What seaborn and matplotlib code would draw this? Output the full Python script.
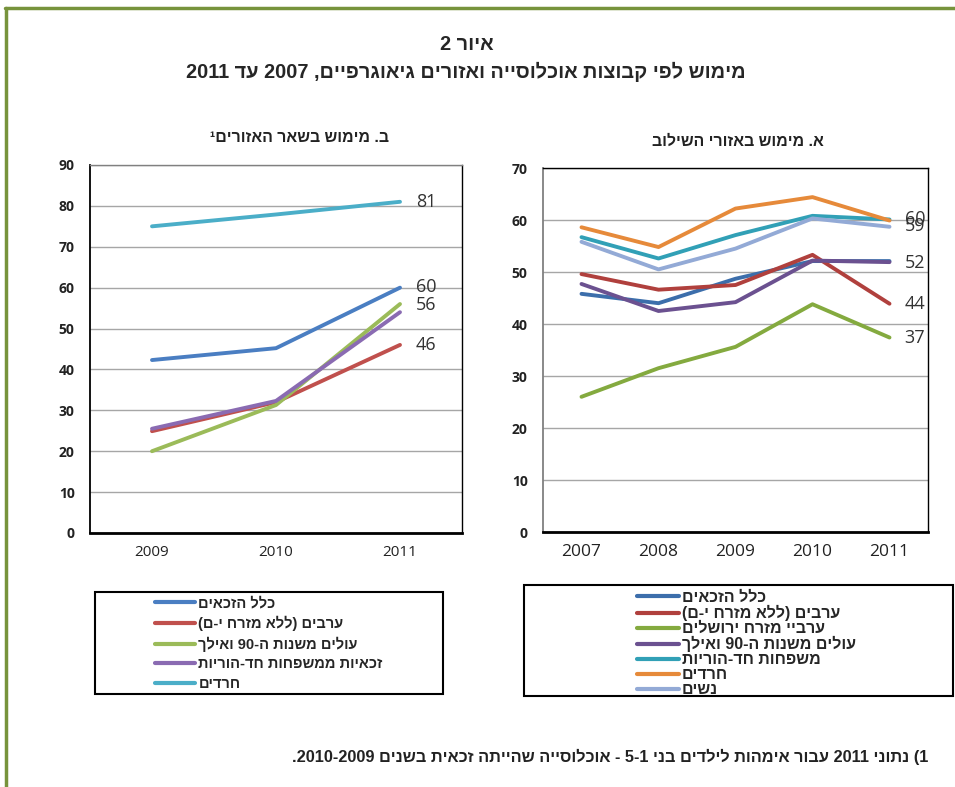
import re
import pandas as pd
import matplotlib
matplotlib.use("Agg")
import matplotlib.pyplot as plt
from matplotlib.lines import Line2D
from matplotlib.patches import Rectangle
from matplotlib.transforms import Bbox, TransformedBbox
import seaborn as sns

# ---- data: panel B (other areas), 2009-2011 ----
years_b = ["2009", "2010", "2011"]
groups_b = ["כלל הזכאים", "ערבים (ללא מזרח י-ם)", "עולים משנות ה-90 ואילך",
            "זכאיות ממשפחות חד-הוריות", "חרדים"]
all_b = [42.3, 45.2, 60.0]
arabs_b = [24.9, 32.0, 46.0]
immig_b = [20.0, 31.3, 56.0]
single_b = [25.5, 32.3, 54.0]
haredi_b = [75.0, 77.9, 81.0]
labels_b = [("81", 81.0), ("60", 60.2), ("56", 55.8), ("46", 46.0)]

# ---- data: panel A (integration areas), 2007-2011 ----
years_a = ["2007", "2008", "2009", "2010", "2011"]
groups_a = ["כלל הזכאים", "ערבים (ללא מזרח י-ם)", "ערביי מזרח ירושלים",
            "עולים משנות ה-90 ואילך", "משפחות חד-הוריות", "חרדים", "נשים"]
all_a = [45.8, 44.0, 48.7, 52.1, 52.1]
arabs_a = [49.6, 46.6, 47.5, 53.3, 43.9]
ejlm_a = [26.0, 31.5, 35.6, 43.8, 37.4]
immig_a = [47.7, 42.5, 44.2, 52.2, 51.9]
single_a = [56.7, 52.6, 57.1, 60.8, 60.1]
haredi_a = [58.6, 54.8, 62.2, 64.4, 59.9]
women_a = [55.8, 50.5, 54.5, 60.3, 58.7]
labels_a = [("60", 60.1), ("59", 58.8), ("52", 51.7), ("44", 43.9), ("37", 37.4)]

colors_b = ["#4A7EC2", "#C0504D", "#9BBB59", "#8A6BB2", "#4BAEC8"]
colors_a = ["#3C6EAB", "#B0403D", "#84AA3F", "#6B5190", "#31A0B6", "#E68A3A", "#93AAD6"]


def heb(s):
    # visual order for right-to-left text (matplotlib has no bidi)
    r = s[::-1]
    r = re.sub(r"[0-9]+", lambda m: m.group(0)[::-1], r)
    return r.translate(str.maketrans("()", ")("))


sns.set_style("white")
plt.rcParams["font.family"] = ["Liberation Sans", "DejaVu Sans"]

W, H = 955, 787
fig = plt.figure(figsize=(W / 100, H / 100), dpi=100)


def fx(px):
    return px / W


def fy(py):
    return 1 - py / H


def long_df(years, groups, series):
    rows = []
    for g, vals in zip(groups, series):
        for y, v in zip(years, vals):
            rows.append({"year": y, "group": g, "value": v})
    return pd.DataFrame(rows)


def draw_panel(ax, df, years, groups, colors, ymax, labels, xfont, lab_off):
    sns.lineplot(data=df, x="year", y="value", hue="group", hue_order=groups,
                 palette=dict(zip(groups, colors)), linewidth=2.8, errorbar=None,
                 sort=False, legend=False, ax=ax, solid_capstyle="round")
    n = len(years)
    ax.set_xlim(-0.5, n - 0.5)
    ax.set_ylim(0, ymax)
    ax.set_yticks(range(0, ymax + 1, 10))
    ax.set_xticks(range(n))
    ax.set_xticklabels(years)
    ax.set_xticks([i + 0.5 for i in range(n - 1)], minor=True)
    ax.set_xlabel("")
    ax.set_ylabel("")
    ax.yaxis.grid(True, color="#A6A6A6", linewidth=1.0)
    ax.set_axisbelow(True)
    ax.tick_params(axis="x", which="major", length=0, pad=9, labelsize=xfont,
                   labelcolor="#222222")
    ax.tick_params(axis="x", which="minor", direction="in", length=4, width=1, color="black")
    ax.tick_params(axis="y", length=0, pad=11, labelsize=10)
    for t in ax.get_xticklabels():
        t.set_family("Open Sans")
    for t in ax.get_yticklabels():
        t.set_family("Open Sans")
        t.set_fontweight("bold")
        t.set_color("#222222")
    for txt, v in labels:
        ax.annotate(txt, xy=(n - 1, v), xytext=(lab_off, 0), textcoords="offset pixels",
                    va="center", ha="left", fontsize=13, color="#333333", family="Open Sans")


# left panel (B)
ax_b = fig.add_axes([fx(90), fy(533), fx(372), 368 / H])
df_b = long_df(years_b, groups_b, [all_b, arabs_b, immig_b, single_b, haredi_b])
draw_panel(ax_b, df_b, years_b, groups_b, colors_b, 90, labels_b, 11, 16)
for side, c, w in [("left", "black", 1.3), ("bottom", "black", 2.0),
                   ("top", "#808080", 1.0), ("right", "black", 1.0)]:
    ax_b.spines[side].set_color(c)
    ax_b.spines[side].set_linewidth(w)

# right panel (A)
ax_a = fig.add_axes([fx(543), fy(532), fx(385), 364 / H])
df_a = long_df(years_a, groups_a, [all_a, arabs_a, ejlm_a, immig_a, single_a, haredi_a, women_a])
draw_panel(ax_a, df_a, years_a, groups_a, colors_a, 70, labels_a, 12.5, 15)
for side, c, w in [("left", "#808080", 1.3), ("bottom", "black", 2.0),
                   ("top", "black", 1.0), ("right", "black", 1.0)]:
    ax_a.spines[side].set_color(c)
    ax_a.spines[side].set_linewidth(w)

# titles
fig.text(fx(467), fy(45), heb("איור 2"), ha="center", va="center", fontsize=14.3, fontweight="bold")
fig.text(fx(466), fy(72), heb("מימוש לפי קבוצות אוכלוסייה ואזורים גיאוגרפיים, 2007 עד 2011"),
         ha="center", va="center", fontsize=14.3, fontweight="bold")
fig.text(fx(299), fy(137), heb("ב. מימוש בשאר האזורים¹"), ha="center", va="center",
         fontsize=11.4, fontweight="bold", color="#222222")
fig.text(fx(738), fy(141), heb("א. מימוש באזורי השילוב"), ha="center", va="center",
         fontsize=11.4, fontweight="bold", color="#222222")
fig.text(fx(928), fy(757), heb("1) נתוני 2011 עבור אימהות לילדים בני 1-5 - אוכלוסייה שהייתה זכאית בשנים 2009-2010."),
         ha="right", va="center", fontsize=11.8, fontweight="bold", color="#222222")

# green frame
fig.add_artist(Line2D([fx(6), fx(6)], [fy(8), 0], color="#77933C", linewidth=2.5))
fig.add_artist(Line2D([fx(5), 1], [fy(8), fy(8)], color="#77933C", linewidth=2.5))

# legends
fig.add_artist(Rectangle((fx(95), fy(694)), fx(348), 102 / H, transform=fig.transFigure,
                         fill=False, edgecolor="black", linewidth=1.5))
h_b = [Line2D([], [], color=c, linewidth=3, solid_capstyle="round") for c in colors_b]
leg_b = fig.legend(h_b, [heb(g) for g in groups_b], loc="upper left",
                   bbox_to_anchor=(fx(148), fy(589)), frameon=False, borderpad=0,
                   handlelength=2.7, handletextpad=0.25, labelspacing=0.375,
                   prop={"family": "Liberation Sans", "weight": "bold", "size": 10.5})

frame_a = Rectangle((fx(524), fy(696)), fx(429), 111 / H, transform=fig.transFigure,
                    fill=False, edgecolor="black", linewidth=1.5)
fig.add_artist(frame_a)
h_a = [Line2D([], [], color=c, linewidth=3, solid_capstyle="round") for c in colors_a]
leg_a = fig.legend(h_a, [heb(g) for g in groups_a], loc="upper left",
                   bbox_to_anchor=(fx(629), fy(582)), frameon=False, borderpad=0,
                   handlelength=2.6, handletextpad=0.2, labelspacing=0.0,
                   prop={"family": "Liberation Sans", "weight": "bold", "size": 11.5})
clip = TransformedBbox(Bbox([[fx(524), fy(696)], [fx(953), fy(585)]]), fig.transFigure)
for t in leg_a.get_texts():
    t.set_clip_box(clip)
    t.set_clip_on(True)

fig.savefig("out.png", dpi=100)
